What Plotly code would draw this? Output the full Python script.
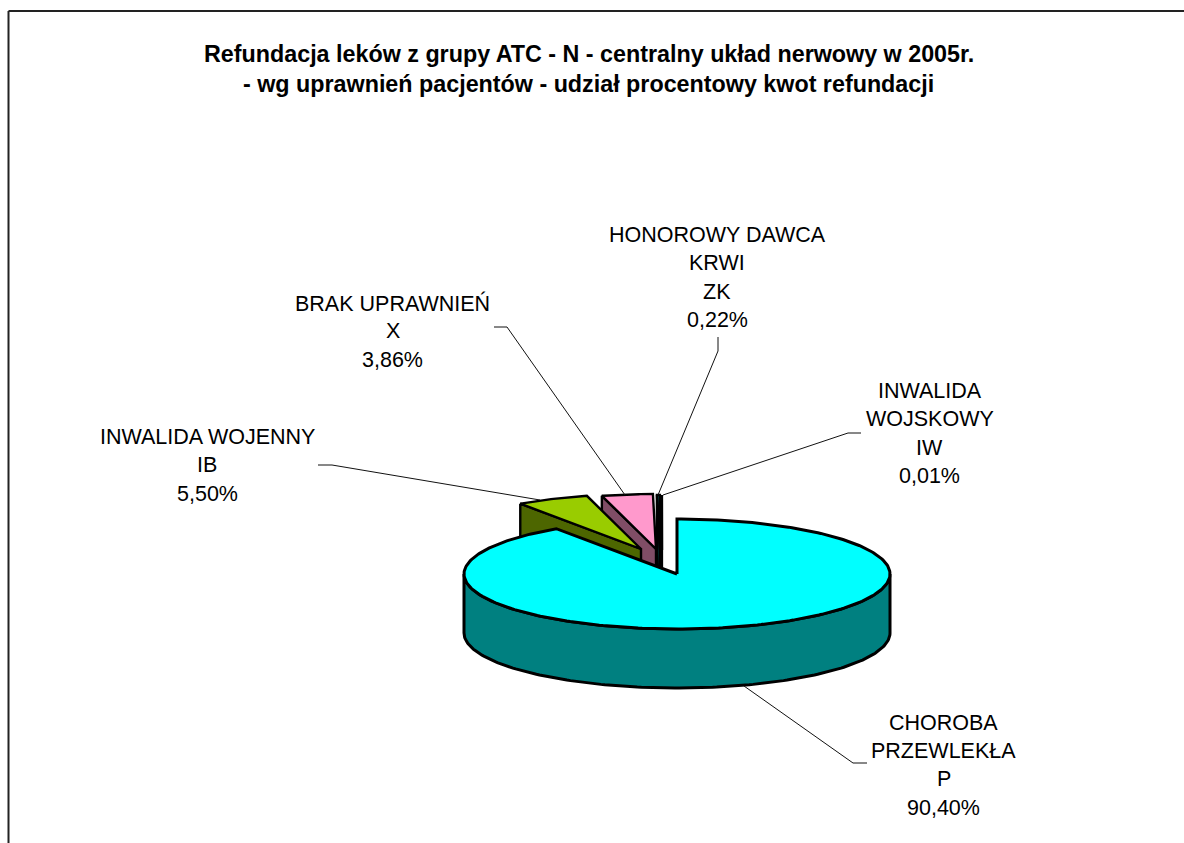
import math
import numpy as np
import plotly.graph_objects as go

# ---- data ----
codes = ["P", "IB", "X", "ZK", "IW"]
names = [["CHOROBA", "PRZEWLEKŁA"], ["INWALIDA WOJENNY"], ["BRAK UPRAWNIEŃ"], ["HONOROWY DAWCA", "KRWI"], ["INWALIDA", "WOJSKOWY"]]
shares = [90.40, 5.50, 3.86, 0.22, 0.01]
value_labels = ["90,40%", "5,50%", "3,86%", "0,22%", "0,01%"]
title_lines = ["Refundacja leków z grupy ATC - N - centralny układ nerwowy w 2005r.",
               "- wg uprawnień pacjentów - udział procentowy kwot refundacji"]

# ---- style / layout ----
W, H = 1184, 843
RX, RY, DEPTH = 213, 55, 59
apex = [(677, 574), (641, 549), (656, 549), (660, 550), (662, 550)]
top_col = ["#00FFFF", "#99CC00", "#FF99CC", "#006666", "#CCFFFF"]
side_col = ["#008080", "#4D6600", "#804D66", "#003333", "#668080"]
label_xc = [943.5, 207, 392.5, 717, 929.5]
label_y0 = [722.5, 437, 303, 235, 391]
LINE_STEP = 28.4
leaders = [[(744, 686), (853, 763), (867, 763)],
           [(318, 465), (332, 465), (540, 500)],
           [(494, 327), (507, 327), (625, 495)],
           [(718, 337), (718, 351), (658, 495)],
           [(861, 433), (848, 433), (663, 495)]]

total = sum(shares)
edges = np.cumsum([0] + shares) / total * 2 * math.pi


def arc(c, a0, a1, n=120, dy=0):
    t = np.linspace(a0, a1, n)
    return c[0] + RX * np.sin(t), c[1] - RY * np.cos(t) + dy


fig = go.Figure()


def poly(x, y, fill, lw=2.4):
    fig.add_trace(go.Scatter(x=list(x), y=list(y), mode="lines", fill="toself", fillcolor=fill,
                             line=dict(color="black", width=lw), hoverinfo="skip", showlegend=False))


# back slices first (right to left), main slice last so it covers their hidden parts
for i in [4, 3, 2, 1]:
    a0, a1 = edges[i], edges[i + 1]
    c = apex[i]
    ox, oy = arc(c, a0, a1, 30)
    # visible cut face on the left edge, extruded downwards
    poly([ox[0], c[0], c[0], ox[0], ox[0]],
         [oy[0], c[1], c[1] + DEPTH, oy[0] + DEPTH, oy[0]], side_col[i])
    poly([c[0], *ox, c[0]], [c[1], *oy, c[1]], top_col[i])

# main slice: outer wall (front half) then top face
c = apex[0]
wx, wy = arc(c, math.pi / 2, 3 * math.pi / 2, 160)
bx, by = arc(c, 3 * math.pi / 2, math.pi / 2, 160, DEPTH)
poly([*wx, *bx, wx[0]], [*wy, *by, wy[0]], side_col[0], 3)
ox, oy = arc(c, edges[0], edges[1], 300)
poly([c[0], *ox, c[0]], [c[1], *oy, c[1]], top_col[0], 3)

# leader lines
for pts in leaders:
    fig.add_trace(go.Scatter(x=[p[0] for p in pts], y=[p[1] for p in pts], mode="lines",
                             line=dict(color="#111111", width=1), hoverinfo="skip", showlegend=False))

# labels, one annotation per text line for the wider line spacing
annotations = []
for i in range(len(codes)):
    for k, line in enumerate(names[i] + [codes[i], value_labels[i]]):
        annotations.append(dict(x=label_xc[i], y=label_y0[i] + k * LINE_STEP, xref="x", yref="y",
                                showarrow=False, text=line,
                                font=dict(family="Liberation Sans, Arial", size=21.5, color="black")))
for line, y in zip(title_lines, (54, 84)):
    annotations.append(dict(x=588.5, y=y, xref="x", yref="y", showarrow=False, text=f"<b>{line}</b>",
                            font=dict(family="Liberation Sans, Arial", size=23.3, color="black")))

fig.update_layout(
    width=W, height=H, margin=dict(l=0, r=0, t=0, b=0),
    paper_bgcolor="white", plot_bgcolor="white", showlegend=False,
    xaxis=dict(range=[0, W], visible=False, fixedrange=True),
    yaxis=dict(range=[H, 0], visible=False, fixedrange=True),
    annotations=annotations,
    shapes=[dict(type="line", x0=8.5, x1=8.5, y0=11, y1=H, line=dict(color="#222222", width=2)),
            dict(type="line", x0=8.5, x1=W, y0=11, y1=11, line=dict(color="#222222", width=2))],
)
fig.write_html("out.html", config={"displayModeBar": False},
               post_script="document.body.style.margin='0';document.body.style.overflow='hidden';")
